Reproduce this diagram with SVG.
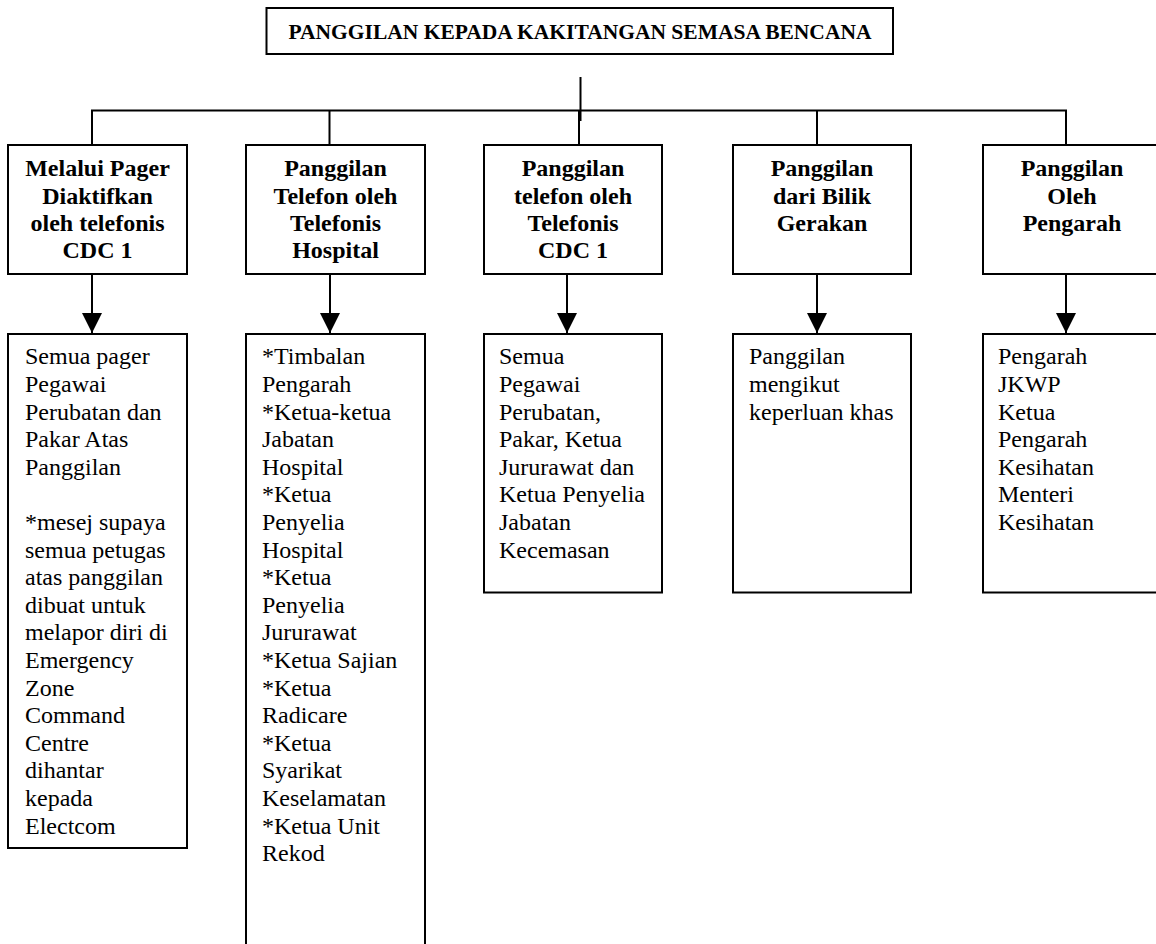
<svg xmlns="http://www.w3.org/2000/svg" width="1156" height="944" viewBox="0 0 1156 944">
  <style>
    .box { fill: #ffffff; stroke: #000000; stroke-width: 2; }
    .wire { fill: none; stroke: #000000; stroke-width: 2; }
    .title { font-family: "Liberation Serif", "Times New Roman", serif; font-weight: bold; font-size: 21.5px; fill: #000000; text-anchor: middle; }
    .head { font-family: "Liberation Serif", "Times New Roman", serif; font-weight: bold; font-size: 24px; fill: #000000; text-anchor: middle; }
    .body { font-family: "Liberation Serif", "Times New Roman", serif; font-size: 24px; fill: #000000; }
  </style>
  <defs>
    <marker id="arrowhead" markerUnits="userSpaceOnUse" markerWidth="20" markerHeight="20" refX="20" refY="10" orient="auto" viewBox="0 0 20 20">
      <path d="M0,0 L20,10 L0,20 z" fill="#000000"/>
    </marker>
  </defs>

  <rect width="1156" height="944" fill="#ffffff"/>

  <!-- title -->
  <g id="title">
    <rect class="box" x="266.5" y="8" width="626.5" height="46"/>
    <text class="title" x="580" y="39">PANGGILAN KEPADA KAKITANGAN SEMASA BENCANA</text>
  </g>

  <!-- connectors -->
  <g id="connectors">
    <line class="wire" x1="580.5" y1="77" x2="580.5" y2="121"/>
    <line class="wire" x1="91" y1="110.5" x2="1067" y2="110.5"/>
    <line class="wire" x1="92" y1="110" x2="92" y2="145"/>
    <line class="wire" x1="329.5" y1="110" x2="329.5" y2="145"/>
    <line class="wire" x1="579" y1="110" x2="579" y2="145"/>
    <line class="wire" x1="817" y1="110" x2="817" y2="145"/>
    <line class="wire" x1="1066" y1="110" x2="1066" y2="145"/>

    <line class="wire" x1="92" y1="274" x2="92" y2="333" marker-end="url(#arrowhead)"/>
    <line class="wire" x1="330" y1="274" x2="330" y2="333" marker-end="url(#arrowhead)"/>
    <line class="wire" x1="567" y1="274" x2="567" y2="333" marker-end="url(#arrowhead)"/>
    <line class="wire" x1="817" y1="274" x2="817" y2="333" marker-end="url(#arrowhead)"/>
    <line class="wire" x1="1066" y1="274" x2="1066" y2="333" marker-end="url(#arrowhead)"/>
  </g>

  <!-- call channels -->
  <g id="pager">
    <rect class="box" x="8" y="145" width="179" height="129"/>
    <text class="head" x="97.5" y="176">Melalui Pager</text>
    <text class="head" x="97.5" y="204">Diaktifkan</text>
    <text class="head" x="97.5" y="231">oleh telefonis</text>
    <text class="head" x="97.5" y="258">CDC 1</text>
  </g>
  <g id="hospital-operator">
    <rect class="box" x="246" y="145" width="179" height="129"/>
    <text class="head" x="335.5" y="176">Panggilan</text>
    <text class="head" x="335.5" y="204">Telefon oleh</text>
    <text class="head" x="335.5" y="231">Telefonis</text>
    <text class="head" x="335.5" y="258">Hospital</text>
  </g>
  <g id="cdc-operator">
    <rect class="box" x="484" y="145" width="178" height="129"/>
    <text class="head" x="573" y="176">Panggilan</text>
    <text class="head" x="573" y="204">telefon oleh</text>
    <text class="head" x="573" y="231">Telefonis</text>
    <text class="head" x="573" y="258">CDC 1</text>
  </g>
  <g id="ops-room">
    <rect class="box" x="733" y="145" width="178" height="129"/>
    <text class="head" x="822" y="176">Panggilan</text>
    <text class="head" x="822" y="204">dari Bilik</text>
    <text class="head" x="822" y="231">Gerakan</text>
  </g>
  <g id="director">
    <rect class="box" x="983" y="145" width="179" height="129"/>
    <text class="head" x="1072" y="176">Panggilan</text>
    <text class="head" x="1072" y="204">Oleh</text>
    <text class="head" x="1072" y="231">Pengarah</text>
  </g>

  <!-- who is called -->
  <g id="pager-recipients">
    <rect class="box" x="8" y="334" width="179" height="514"/>
    <text class="body" x="25" y="364.3">Semua pager</text>
    <text class="body" x="25" y="391.9">Pegawai</text>
    <text class="body" x="25" y="419.5">Perubatan dan</text>
    <text class="body" x="25" y="447.1">Pakar Atas</text>
    <text class="body" x="25" y="474.7">Panggilan</text>
    <text class="body" x="25" y="529.9">*mesej supaya</text>
    <text class="body" x="25" y="557.5">semua petugas</text>
    <text class="body" x="25" y="585.1">atas panggilan</text>
    <text class="body" x="25" y="612.7">dibuat untuk</text>
    <text class="body" x="25" y="640.3">melapor diri di</text>
    <text class="body" x="25" y="667.9">Emergency</text>
    <text class="body" x="25" y="695.5">Zone</text>
    <text class="body" x="25" y="723.1">Command</text>
    <text class="body" x="25" y="750.7">Centre</text>
    <text class="body" x="25" y="778.3">dihantar</text>
    <text class="body" x="25" y="805.9">kepada</text>
    <text class="body" x="25" y="833.5">Electcom</text>
  </g>
  <g id="hospital-recipients">
    <rect class="box" x="246" y="334" width="179" height="620"/>
    <text class="body" x="262" y="364.3">*Timbalan</text>
    <text class="body" x="262" y="391.9">Pengarah</text>
    <text class="body" x="262" y="419.5">*Ketua-ketua</text>
    <text class="body" x="262" y="447.1">Jabatan</text>
    <text class="body" x="262" y="474.7">Hospital</text>
    <text class="body" x="262" y="502.3">*Ketua</text>
    <text class="body" x="262" y="529.9">Penyelia</text>
    <text class="body" x="262" y="557.5">Hospital</text>
    <text class="body" x="262" y="585.1">*Ketua</text>
    <text class="body" x="262" y="612.7">Penyelia</text>
    <text class="body" x="262" y="640.3">Jururawat</text>
    <text class="body" x="262" y="667.9">*Ketua Sajian</text>
    <text class="body" x="262" y="695.5">*Ketua</text>
    <text class="body" x="262" y="723.1">Radicare</text>
    <text class="body" x="262" y="750.7">*Ketua</text>
    <text class="body" x="262" y="778.3">Syarikat</text>
    <text class="body" x="262" y="805.9">Keselamatan</text>
    <text class="body" x="262" y="833.5">*Ketua Unit</text>
    <text class="body" x="262" y="861.1">Rekod</text>
  </g>
  <g id="cdc-recipients">
    <rect class="box" x="484" y="334" width="178" height="258.5"/>
    <text class="body" x="499" y="364.3">Semua</text>
    <text class="body" x="499" y="391.9">Pegawai</text>
    <text class="body" x="499" y="419.5">Perubatan,</text>
    <text class="body" x="499" y="447.1">Pakar, Ketua</text>
    <text class="body" x="499" y="474.7">Jururawat dan</text>
    <text class="body" x="499" y="502.3">Ketua Penyelia</text>
    <text class="body" x="499" y="529.9">Jabatan</text>
    <text class="body" x="499" y="557.5">Kecemasan</text>
  </g>
  <g id="ops-room-recipients">
    <rect class="box" x="733" y="334" width="178" height="258.5"/>
    <text class="body" x="749" y="364.3">Panggilan</text>
    <text class="body" x="749" y="391.9">mengikut</text>
    <text class="body" x="749" y="419.5">keperluan khas</text>
  </g>
  <g id="director-recipients">
    <rect class="box" x="983" y="334" width="179" height="258.5"/>
    <text class="body" x="998" y="364.3">Pengarah</text>
    <text class="body" x="998" y="391.9">JKWP</text>
    <text class="body" x="998" y="419.5">Ketua</text>
    <text class="body" x="998" y="447.1">Pengarah</text>
    <text class="body" x="998" y="474.7">Kesihatan</text>
    <text class="body" x="998" y="502.3">Menteri</text>
    <text class="body" x="998" y="529.9">Kesihatan</text>
  </g>
</svg>
